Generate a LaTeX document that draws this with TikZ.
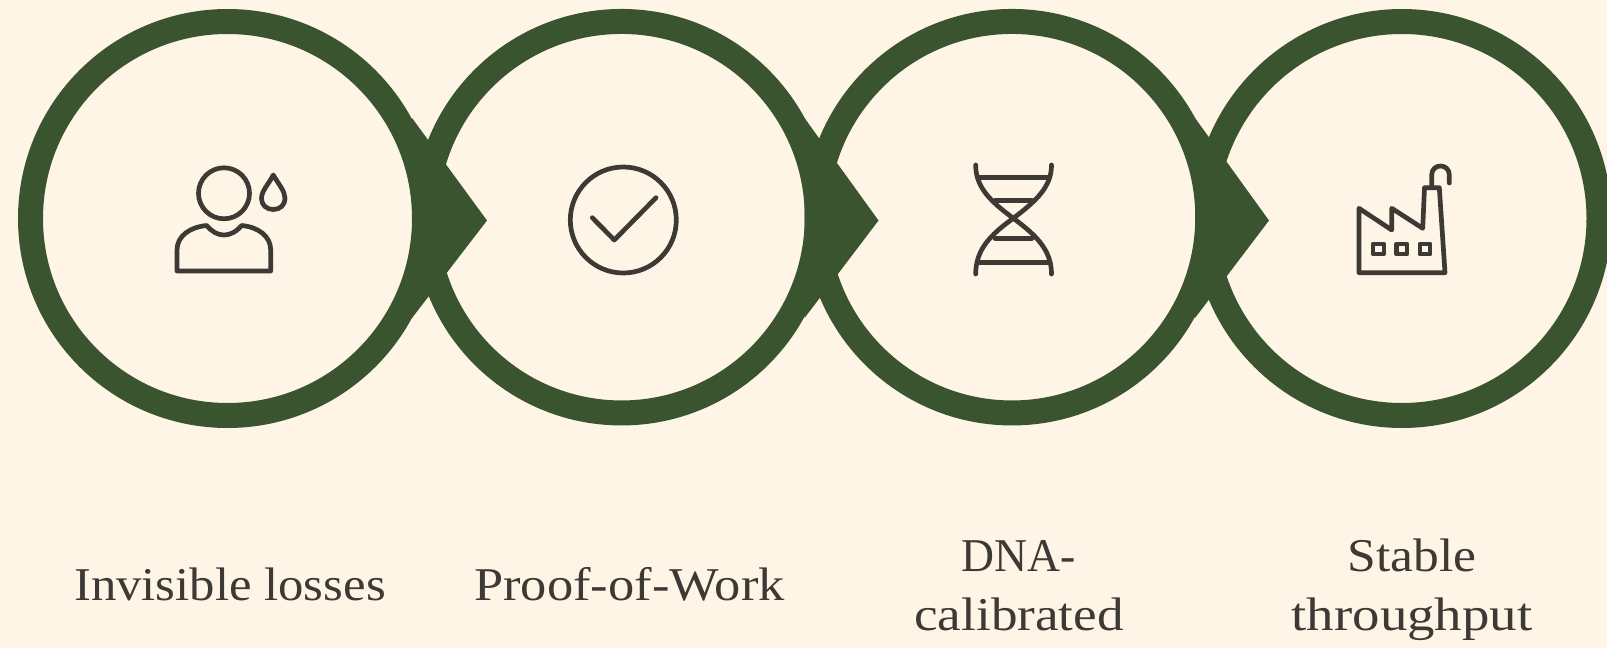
\documentclass[tikz,border=0pt]{standalone}
\usepackage{fontspec}
\setmainfont[FakeStretch=1.08]{Liberation Serif}
\definecolor{bgc}{HTML}{FFF5E6}
\definecolor{grn}{HTML}{3A5430}
\definecolor{ink}{HTML}{3D3935}
\tikzset{
  x=1pt,y=-1pt,
  ring/.style={circle,draw=grn,fill=bgc,line width=25pt,minimum size=394pt,inner sep=0pt,outer sep=0pt},
  ringb/.style={ring,minimum size=391.5pt},
  pointer/.style={fill=grn,draw=none},
  icon/.style={draw=ink,line width=4.7pt,line cap=round,line join=round},
  winbox/.style={draw=ink,line width=4.2pt,line join=round},
  caption/.style={text=ink,font=\fontsize{47}{58}\selectfont,align=center,inner sep=0pt,anchor=base,transform shape}
}
\begin{document}
\begin{tikzpicture}
\useasboundingbox (0,0) rectangle (1607,648);
\fill[bgc] (0,0) rectangle (1607,648);
\clip (0,0) rectangle (1607,648);
\node[ring] (c4) at (1402,218.5) {};
\node[ringb] (c3) at (1012,217.2) {};
\node[ringb] (c2) at (621.5,217.2) {};
\node[ring] (c1) at (227.5,218.5) {};
\fill[pointer] ([shift={(184.5,-100.5)}]c1.center) -- ([shift={(259.5,2)}]c1.center) -- ([shift={(184.5,99.5)}]c1.center) -- cycle;
\fill[pointer] ([shift={(183,-99.2)}]c2.center) -- ([shift={(257,3.3)}]c2.center) -- ([shift={(183,100.8)}]c2.center) -- cycle;
\fill[pointer] ([shift={(183,-99.2)}]c3.center) -- ([shift={(257,3.3)}]c3.center) -- ([shift={(183,100.8)}]c3.center) -- cycle;
% person
\draw[icon] (224,193.3) circle[radius=25.5];
\draw[icon] (177,271) -- (270.7,271) -- (270.7,250) .. controls (270.7,236) and (258,227) .. (241.7,225.5) .. controls (236,232) and (230,235) .. (224,235) .. controls (218,235) and (212,232) .. (206.7,225.5) .. controls (190,227) and (177,236) .. (177,250) -- cycle;
\draw[icon] (273.3,175) .. controls (279,185) and (285,191) .. (285,198.5) .. controls (285,205) and (280,209.5) .. (273.3,209.5) .. controls (266.5,209.5) and (261.5,205) .. (261.5,198.5) .. controls (261.5,191) and (268,185) .. (273.3,175) -- cycle;
% check
\draw[icon] (623.3,220) circle[radius=53];
\draw[icon] (592.3,217.7) -- (614.3,240) -- (656,197.7);
% dna
\draw[icon] (975.7,165) .. controls (975.7,187) and (990,201) .. (1013.3,218.3) .. controls (1036,235) and (1051.5,250) .. (1051.5,274);
\draw[icon] (1051.5,165) .. controls (1051.5,187) and (1036,201) .. (1013.3,218.3) .. controls (990,235) and (975.7,250) .. (975.7,274);
\draw[icon] (978,177.7) -- (1049,177.7);
\draw[icon] (995,200.7) -- (1032,200.7);
\draw[icon] (995,238.3) -- (1032,238.3);
\draw[icon] (978,262.7) -- (1049,262.7);
% factory
\draw[icon] (1359,272.7) -- (1359,208.3) -- (1391.7,230) -- (1391.7,208.3) -- (1422.7,228.3) -- (1424.5,187.7) -- (1439.3,187.7) -- (1445,272.7) -- cycle;
\draw[icon] (1431.7,187) -- (1431.7,175) .. controls (1431.7,163) and (1449.3,163) .. (1449.3,175) -- (1449.3,183);
\draw[winbox] (1373,243.7) rectangle (1383.6,254.3);
\draw[winbox] (1396.4,243.7) rectangle (1407,254.3);
\draw[winbox] (1419.7,243.7) rectangle (1430.3,254.3);
% labels
\node[caption] (t1) at (230,600) {Invisible losses};
\node[caption,xscale=1.034] (t2) at (629.5,600) {Proof-of-Work};
\node[caption,xscale=0.9] (t3a) at (1018.5,571.7) {DNA-};
\node[caption,xscale=1.047] (t3b) at (1019,630) {calibrated};
\node[caption,xscale=1.016] (t4a) at (1412,571.7) {Stable};
\node[caption,xscale=1.08] (t4b) at (1412,630) {throughput};
\end{tikzpicture}
\end{document}
